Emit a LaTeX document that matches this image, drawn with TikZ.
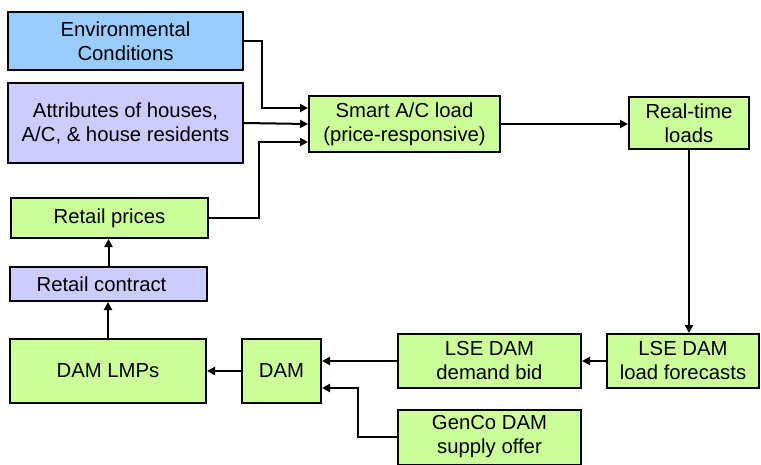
\documentclass[tikz,border=0pt]{standalone}
\usepackage{fontspec}
\setmainfont{Liberation Sans}
\usetikzlibrary{arrows.meta,calc}
\definecolor{envblue}{HTML}{99CCFF}
\definecolor{lav}{HTML}{CCCCFF}
\definecolor{lgreen}{HTML}{CCFF99}
\tikzset{
  box/.style={draw=black, line width=2pt, align=center, inner sep=0pt,
    font=\fontsize{20.3}{24}\selectfont},
  gbox/.style={box, fill=lgreen},
  arr/.style={line width=2pt, -{Triangle[length=8pt,width=8pt]}},
}
\begin{document}
\begin{tikzpicture}[x=1pt,y=-1pt]
\useasboundingbox (0,0) rectangle (761,464);
% input boxes
\node[box, fill=envblue, minimum width=235pt, minimum height=58pt] (env) at (125.5,41) {Environmental\\Conditions};
\node[box, fill=lav, minimum width=235pt, minimum height=80pt] (attr) at (125.5,123) {Attributes of houses,\\A/C, \& house residents};
\node[gbox, minimum width=197pt, minimum height=40pt] (retp) at (109.5,218) {Retail prices};
\node[box, fill=lav, minimum width=197pt, minimum height=34pt] (retc) at (108.5,284) {Retail contract\hspace*{14pt}};
\node[gbox, minimum width=196pt, minimum height=64pt] (lmp) at (108,371) {DAM LMPs};
\node[gbox, minimum width=79pt, minimum height=64pt] (dam) at (281.5,371) {DAM};
% load path
\node[gbox, minimum width=191pt, minimum height=56pt] (smart) at (404.5,124) {Smart A/C load\\(price-responsive)};
\node[gbox, minimum width=120pt, minimum height=52pt] (rt) at (689,123) {Real-time\\loads};
\node[gbox, minimum width=152pt, minimum height=54pt] (fc) at (683,361) {LSE DAM\\load forecasts};
\node[gbox, minimum width=183pt, minimum height=54pt] (bid) at (489.5,361) {LSE DAM\\demand bid};
\node[gbox, minimum width=183pt, minimum height=55pt] (gen) at (489.5,437) {GenCo DAM\\supply offer};
% connectors
\draw[arr] (env.east) -- ++(18,0) |- ([yshift=16pt]smart.west);
\draw[arr] (attr.east) -- (smart.west);
\draw[arr] (retp.east) -- ++(50,0) |- ([yshift=-18pt]smart.west);
\draw[arr] (smart.east) -- (smart.east -| rt.west);
\draw[arr] (rt.south) -- (rt.south |- fc.north);
\draw[arr] (fc.west) -- (bid.east);
\draw[arr] (bid.west) -- (bid.west -| dam.east);
\draw[arr] (gen.west) -- ++(-39,0) |- ([yshift=-17pt]dam.east);
\draw[arr] (dam.west) -- (lmp.east);
\draw[arr] (lmp.north) -- (lmp.north |- retc.south);
\draw[arr] (retc.north) -- (retc.north |- retp.south);
\end{tikzpicture}
\end{document}
